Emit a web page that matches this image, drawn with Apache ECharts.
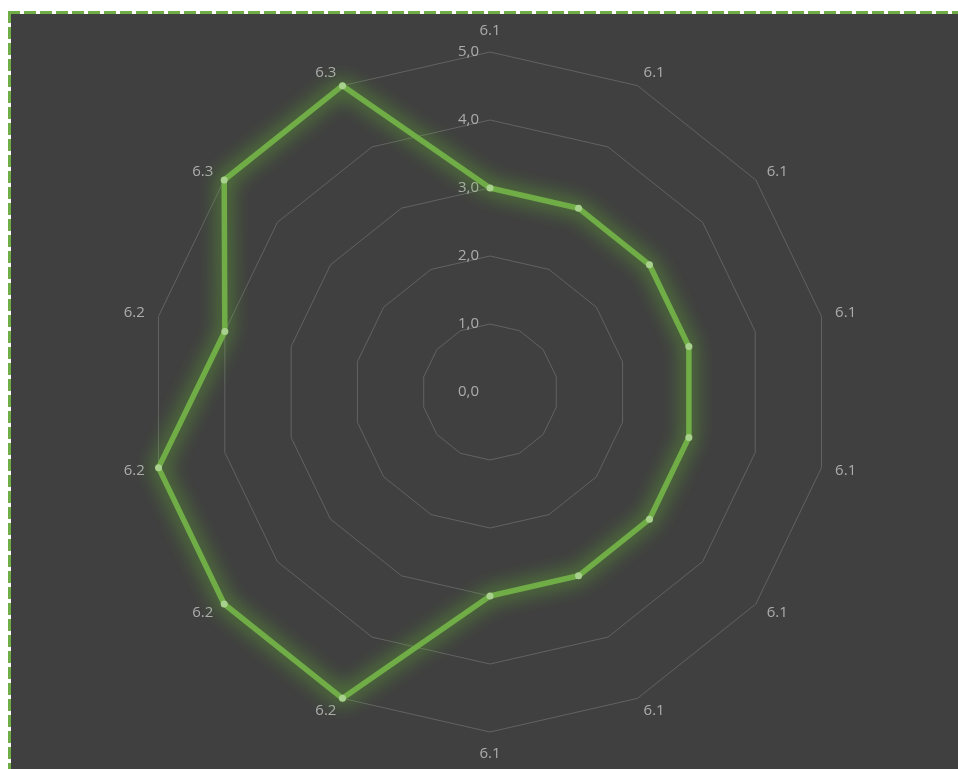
<!DOCTYPE html>
<html>
<head>
<meta charset="utf-8">
<script src="https://cdn.jsdelivr.net/npm/echarts@6/dist/echarts.min.js"></script>
<style>
  html, body { margin: 0; padding: 0; background: #fff; }
  #chart { width: 958px; height: 769px; }
</style>
</head>
<body>
<div id="chart"></div>
<script>
// indicator names, clockwise from the top
const categories = ['6.1', '6.1', '6.1', '6.1', '6.1', '6.1', '6.1', '6.1',
  '6.2', '6.2', '6.2', '6.2', '6.3', '6.3'];
const values = [3, 3, 3, 3, 3, 3, 3, 3, 5, 5, 5, 4, 5, 5];
const axisMax = 5;

// echarts lays radar axes out counter-clockwise, so keep the first and flip the rest
const ccw = arr => [arr[0]].concat(arr.slice(1).reverse());

const chart = echarts.init(document.getElementById('chart'));

const fmt = v => Number(v).toFixed(1).replace('.', ',');
const labelColor = '#acacac';
const gridColor = '#626262';

chart.setOption({
  backgroundColor: '#ffffff',
  animation: false,
  graphic: [
    { type: 'rect', z: -10, shape: { x: 11, y: 14, width: 960, height: 760 }, style: { fill: '#404040' } },
    { type: 'line', z: -5, shape: { x1: 8, y1: 12.5, x2: 960, y2: 12.5 },
      style: { stroke: '#70ad47', lineWidth: 3, lineDash: [12, 4] } },
    { type: 'line', z: -5, shape: { x1: 9.5, y1: 11, x2: 9.5, y2: 770 },
      style: { stroke: '#70ad47', lineWidth: 3, lineDash: [12, 4] } }
  ],
  radar: {
    center: [490, 392],
    radius: 340,
    startAngle: 90,
    shape: 'polygon',
    splitNumber: 5,
    nameGap: 14,
    axisName: { color: labelColor, fontSize: 15, fontFamily: 'Open Sans' },
    splitArea: { show: false },
    splitLine: { lineStyle: { color: gridColor, width: 1 } },
    axisLine: { show: false },
    axisTick: { show: false },
    axisLabel: { show: false },
    indicator: ccw(categories).map((name, i) => {
      const ind = { name: name, min: 0, max: axisMax };
      if (i === 0) {
        ind.axisLabel = { show: true, color: labelColor, fontSize: 15, fontFamily: 'Open Sans', formatter: fmt, margin: 11 };
      }
      return ind;
    })
  },
  series: [{
    type: 'radar',
    symbol: 'circle',
    symbolSize: 7,
    lineStyle: {
      color: '#70ad47', width: 5.5,
      shadowColor: 'rgba(110,215,45,1)', shadowBlur: 20
    },
    itemStyle: { color: '#a9d18e', borderWidth: 0 },
    data: [{ value: ccw(values) }]
  }]
});
</script>
</body>
</html>
